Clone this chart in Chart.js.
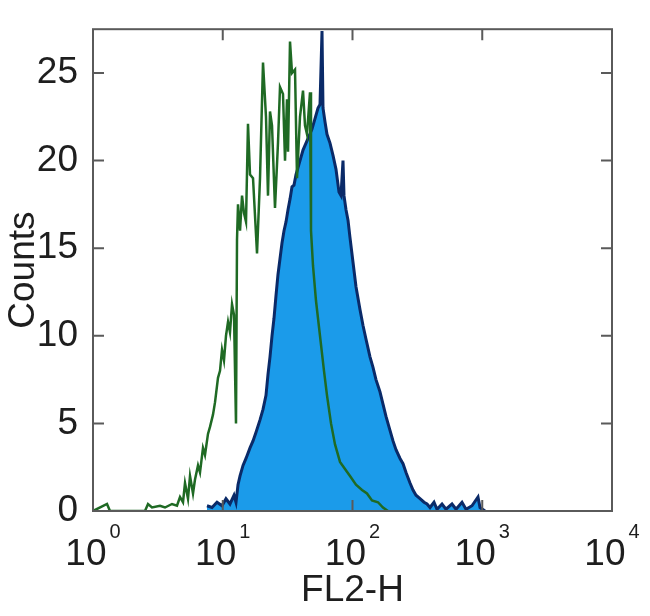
<!DOCTYPE html>
<html>
<head>
<meta charset="utf-8">
<script src="https://cdn.jsdelivr.net/npm/chart.js@4.4.1/dist/chart.umd.min.js"></script>
<style>
  html, body { margin: 0; padding: 0; background: #fff; }
  #wrap { width: 650px; height: 616px; }
</style>
</head>
<body>
<div id="wrap"><canvas id="histo" width="650" height="616"></canvas></div>
<script>
// FL2-H histogram, isotype control (green outline) and stained sample (blue filled)
const decades = [1, 10, 100, 1000, 10000];
const countTicks = [0, 5, 10, 15, 20, 25];

const greenX = [1.00, 1.282, 1.352, 2.516, 2.654, 2.849, 3.284, 3.588, 4.063, 4.440,
  4.683, 4.939, 5.118, 5.398, 5.593, 5.898, 6.111, 6.445, 6.678, 7.042,
  7.297, 7.695, 7.974, 8.410, 8.715, 9.191, 9.524, 9.868, 10.22, 10.59,
  10.98, 11.37, 11.79, 12.21, 12.65, 12.88, 13.11, 13.59, 14.08, 14.58,
  15.11, 15.65, 16.22, 17.11, 18.37, 19.37, 20.43, 21.54, 22.32, 23.13,
  23.97, 25.27, 26.65, 27.62, 29.13, 30.19, 31.28, 31.84, 32.99, 34.18,
  36.05, 37.36, 39.39, 41.55, 43.05, 44.61, 47.04, 47.88, 49.61, 52.32,
  56.17, 60.30, 63.60, 68.29, 73.32, 80.12, 87.53, 95.66, 106.4, 118.4,
  129.3, 141.3, 157.2, 171.8, 187.7];
const greenCounts = [0, 0.4, 0, 0, 0.4, 0.2, 0.3, 0.2, 0.4, 0.3,
  0.8, 0.5, 1.6, 0.7, 2.0, 1.0, 1.8, 2.6, 2.2, 3.6,
  3.2, 4.4, 4.8, 5.5, 6.2, 7.6, 8.0, 9.2, 8.6, 10.0,
  10.8, 10.2, 11.8, 11.2, 5.0, 15.5, 17.5, 16.0, 18.0, 17.0,
  16.5, 22.1, 19.2, 19.0, 14.7, 19.0, 25.6, 22.5, 18.0, 22.8,
  22.0, 17.3, 21.0, 24.2, 23.8, 20.0, 23.5, 20.5, 26.8, 25.0,
  25.2, 19.0, 22.5, 24.0, 22.0, 21.5, 23.9, 16.0, 14.0, 12.0,
  10.0, 8.0, 6.6, 5.0, 3.8, 2.8, 2.4, 2.0, 1.5, 1.2,
  1.0, 0.6, 0.5, 0.2, 0];

const blueX = [7.560, 8.264, 9.031, 9.868, 10.59, 11.37, 12.21, 12.65, 13.11, 13.59,
  14.33, 15.11, 16.22, 17.11, 18.05, 19.37, 20.43, 21.54, 22.32, 23.13,
  23.97, 24.83, 25.73, 26.65, 27.62, 28.62, 29.66, 30.73, 31.84, 32.99,
  34.18, 35.41, 36.69, 38.02, 39.39, 41.55, 43.82, 46.21, 48.74, 51.40,
  54.21, 56.17, 58.21, 59.25, 61.41, 63.60, 67.09, 70.75, 74.62, 78.70,
  81.54, 84.49, 86.00, 89.12, 92.34, 95.66, 100.9, 106.4, 114.2, 120.4,
  127.1, 136.4, 143.9, 151.7, 162.9, 171.8, 181.2, 194.5, 205.2, 216.4,
  232.4, 245.1, 258.5, 277.5, 292.7, 308.7, 331.4, 355.8, 375.2, 395.7,
  424.8, 448.0, 489.6, 525.5, 584.6, 627.8, 698.2, 749.6, 833.7, 927.2,
  960.9, 1050];
const blueCounts = [0.3, 0.2, 0.5, 0.3, 0.7, 0.4, 0.9, 0.5, 1.5, 2.0,
  2.6, 3.0, 3.6, 4.0, 4.5, 5.2, 5.8, 6.6, 7.8, 8.8,
  10.0, 11.0, 12.3, 13.5, 14.4, 15.3, 16.0, 16.5, 17.2, 17.8,
  18.5, 18.6, 19.2, 19.6, 20.0, 20.6, 21.0, 21.4, 21.8, 22.4,
  23.0, 23.2, 27.4, 23.0, 22.2, 21.5, 21.0, 20.3, 19.5, 18.2,
  18.0, 20.0, 18.0, 17.2, 16.6, 15.6, 14.2, 12.8, 11.5, 10.6,
  9.8, 8.8, 8.2, 7.5, 6.8, 6.1, 5.4, 4.6, 4.0, 3.5,
  3.0, 2.7, 2.2, 1.6, 1.2, 0.9, 0.7, 0.5, 0.4, 0.2,
  0.5, 0.1, 0.4, 0.1, 0.4, 0.1, 0.5, 0.1, 0.3, 0.8,
  0.2, 0];

const toPoints = (xs, ys) => xs.map((x, i) => ({ x: x, y: ys[i] }));

const labelFont = "Liberation Sans, Arial, Helvetica, sans-serif";
const textColor = "#1e1e1e";
const frameColor = "#5a5a5a";

// box round the plot with inward ticks on all four sides, plus 10^n labels
const frameTicks = {
  id: "frameTicks",
  afterDatasetsDraw(chart) {
    const { ctx, chartArea: a, scales } = chart;
    const len = 11;
    ctx.save();
    ctx.strokeStyle = frameColor;
    ctx.lineWidth = 2;
    ctx.strokeRect(a.left, a.top, a.right - a.left, a.bottom - a.top);
    ctx.beginPath();
    decades.forEach((d) => {
      const px = scales.x.getPixelForValue(d);
      ctx.moveTo(px, a.bottom);
      ctx.lineTo(px, a.bottom - len);
      ctx.moveTo(px, a.top);
      ctx.lineTo(px, a.top + len);
    });
    countTicks.forEach((c) => {
      const py = scales.y.getPixelForValue(c);
      ctx.moveTo(a.left, py);
      ctx.lineTo(a.left + len, py);
      ctx.moveTo(a.right, py);
      ctx.lineTo(a.right - len, py);
    });
    ctx.stroke();

    ctx.fillStyle = textColor;
    ctx.textBaseline = "alphabetic";
    ctx.textAlign = "left";
    decades.forEach((d, i) => {
      const px = scales.x.getPixelForValue(d);
      ctx.font = "37px " + labelFont;
      const w1 = ctx.measureText("10").width;
      ctx.font = "20px " + labelFont;
      const w2 = ctx.measureText(String(i)).width;
      const x0 = px - (w1 + w2 + 3) / 2;
      ctx.font = "37px " + labelFont;
      ctx.fillText("10", x0, a.bottom + 54);
      ctx.font = "20px " + labelFont;
      ctx.fillText(String(i), x0 + w1 + 3, a.bottom + 27);
    });
    ctx.restore();
  },
};

new Chart(document.getElementById("histo"), {
  type: "line",
  data: {
    datasets: [
      {
        label: "Control",
        order: 0,
        data: toPoints(greenX, greenCounts),
        borderColor: "#1f6a24",
        backgroundColor: "rgba(0,0,0,0)",
        borderWidth: 2.5,
        fill: false,
        pointRadius: 0,
        tension: 0,
      },
      {
        label: "Sample",
        order: 1,
        data: toPoints(blueX, blueCounts),
        borderColor: "#0a2a68",
        backgroundColor: "#1b9bea",
        borderWidth: 3,
        fill: "origin",
        pointRadius: 0,
        tension: 0,
      },
    ],
  },
  options: {
    responsive: false,
    animation: false,
    layout: { padding: { top: 18, right: 38, left: 0, bottom: 0 } },
    plugins: {
      legend: { display: false },
      tooltip: { enabled: false },
    },
    scales: {
      x: {
        type: "logarithmic",
        min: 1,
        max: 10000,
        afterBuildTicks: (scale) => {
          scale.ticks = decades.map((d) => ({ value: d }));
        },
        afterFit: (scale) => {
          scale.height = 105;
        },
        ticks: { display: false },
        grid: { display: false },
        border: { display: false },
        title: {
          display: true,
          text: "FL2-H",
          color: textColor,
          font: { family: labelFont, size: 37 },
          padding: { top: 0, bottom: 3 },
        },
      },
      y: {
        min: 0,
        max: 27.5,
        afterBuildTicks: (scale) => {
          scale.ticks = countTicks.map((c) => ({ value: c }));
        },
        afterFit: (scale) => {
          scale.width = 93;
        },
        ticks: {
          color: textColor,
          font: { family: labelFont, size: 37 },
          padding: 7,
        },
        grid: { display: false },
        border: { display: false },
        title: {
          display: true,
          text: "Counts",
          color: textColor,
          font: { family: labelFont, size: 37 },
          padding: { top: 2, bottom: 0 },
        },
      },
    },
  },
  plugins: [frameTicks],
});
</script>
</body>
</html>
